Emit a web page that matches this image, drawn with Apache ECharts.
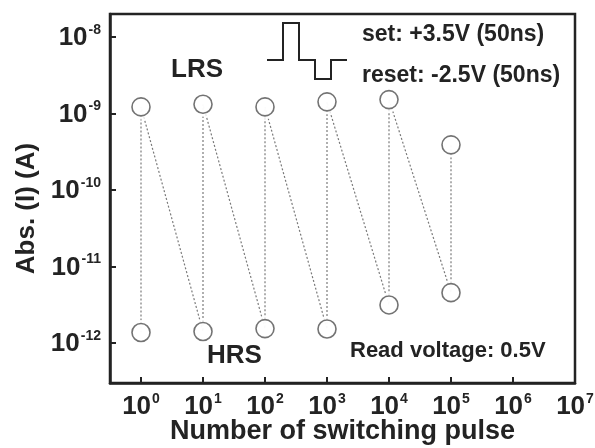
<!DOCTYPE html>
<html>
<head>
<meta charset="utf-8">
<script src="https://cdn.jsdelivr.net/npm/echarts@6/dist/echarts.min.js"></script>
<style>
  html, body { margin: 0; padding: 0; background: #fff; }
  #chart { width: 595px; height: 448px; }
</style>
</head>
<body>
<div id="chart"></div>
<script>
// number of switching pulses and the read currents (A)
var pulses = [1, 10, 100, 1000, 10000, 100000];
var lrsCurrent = [1.22e-9, 1.32e-9, 1.22e-9, 1.42e-9, 1.52e-9, 3.9e-10];
var hrsCurrent = [1.38e-12, 1.42e-12, 1.55e-12, 1.53e-12, 3.16e-12, 4.57e-12];

// tick exponents (decades)
var xTickExp = [0, 1, 2, 3, 4, 5, 6];
var xLabelExp = [0, 1, 2, 3, 4, 5, 6, 7];
var yTickExp = [-12, -11, -10, -9, -8];

var FONT = 'Liberation Sans';
var INK = '#232323';

function lg(v) {
    return Math.log10(v);
}

// points of both states, on log10 scale
var lrsPts = [];
var hrsPts = [];
for (var i = 0; i < pulses.length; i++) {
    lrsPts.push([lg(pulses[i]), lg(lrsCurrent[i])]);
    hrsPts.push([lg(pulses[i]), lg(hrsCurrent[i])]);
}

// dotted zigzag: HRS(n) -> LRS(n) -> HRS(n+1) ...
var zigzag = [];
for (var i = 0; i < pulses.length; i++) {
    zigzag.push(hrsPts[i]);
    zigzag.push(lrsPts[i]);
}

function powLabel(v) {
    return '{b|10}{s|' + v + '}';
}

var labelRich = {
    b: {fontFamily: FONT, fontWeight: 'bold', fontSize: 26, color: INK, lineHeight: 28, verticalAlign: 'bottom'},
    s: {fontFamily: FONT, fontWeight: 'bold', fontSize: 14, color: INK, lineHeight: 28, verticalAlign: 'top', padding: [0, 0, 0, 1]}
};

var chart = echarts.init(document.getElementById('chart'));

var option = {
    animation: false,
    backgroundColor: '#fff',
    grid: {
        left: 110,
        right: 20,
        top: 14,
        bottom: 65,
        outerBoundsMode: 'none',
        containLabel: false,
        show: true,
        borderColor: INK,
        borderWidth: 2.5,
        backgroundColor: 'transparent'
    },
    xAxis: {
        type: 'value',
        min: -0.5,
        max: 7,
        name: 'Number of switching pulse',
        nameLocation: 'middle',
        nameGap: 35,
        nameMoveOverlap: false,
        nameTextStyle: {fontFamily: FONT, fontWeight: 'bold', fontSize: 27, color: INK},
        splitLine: {show: false},
        axisLine: {onZero: false, lineStyle: {color: INK, width: 2.5}},
        axisTick: {inside: true, length: 6, lineStyle: {color: INK, width: 2}, customValues: xTickExp},
        axisLabel: {margin: 9, formatter: powLabel, rich: labelRich, customValues: xLabelExp}
    },
    yAxis: {
        type: 'value',
        min: -12.52,
        max: -7.7,
        name: 'Abs. (I) (A)',
        nameLocation: 'middle',
        nameGap: 70,
        nameMoveOverlap: false,
        nameRotate: 90,
        nameTextStyle: {fontFamily: FONT, fontWeight: 'bold', fontSize: 26, color: INK, padding: [0, 20, 0, 0]},
        splitLine: {show: false},
        axisLine: {onZero: false, lineStyle: {color: INK, width: 2.5}},
        axisTick: {inside: true, length: 6, lineStyle: {color: INK, width: 2}, customValues: yTickExp},
        axisLabel: {margin: 9, formatter: powLabel, rich: labelRich, customValues: yTickExp}
    },
    series: [
        {
            type: 'line',
            data: zigzag,
            showSymbol: false,
            symbol: 'none',
            lineStyle: {color: '#7a7a7a', width: 1.2, type: [2, 2]},
            z: 1
        },
        {
            // white halo so the dotted lines stop short of the circles
            type: 'scatter',
            data: lrsPts.concat(hrsPts),
            symbol: 'circle',
            symbolSize: 25,
            itemStyle: {color: '#fff', borderWidth: 0},
            z: 2
        },
        {
            type: 'scatter',
            name: 'LRS',
            data: lrsPts,
            symbol: 'circle',
            symbolSize: 18,
            itemStyle: {color: '#fff', borderColor: '#505050', borderWidth: 1.6},
            z: 3
        },
        {
            type: 'scatter',
            name: 'HRS',
            data: hrsPts,
            symbol: 'circle',
            symbolSize: 18,
            itemStyle: {color: '#fff', borderColor: '#505050', borderWidth: 1.6},
            z: 3
        }
    ],
    graphic: [
        {
            type: 'polyline',
            shape: {
                points: [[267, 60], [283, 60], [283, 23], [299, 23], [299, 60],
                    [315, 60], [315, 79], [331, 79], [331, 60], [347, 60]]
            },
            style: {stroke: INK, lineWidth: 2, fill: null}
        },
        {
            type: 'text', left: 171, top: 57,
            style: {text: 'LRS', font: 'bold 26px ' + FONT, fill: INK}
        },
        {
            type: 'text', left: 207, top: 343,
            style: {text: 'HRS', font: 'bold 26px ' + FONT, fill: INK}
        },
        {
            type: 'text', left: 362, top: 23,
            style: {text: 'set: +3.5V (50ns)', font: 'bold 23px ' + FONT, fill: INK}
        },
        {
            type: 'text', left: 362, top: 64,
            style: {text: 'reset: -2.5V (50ns)', font: 'bold 23px ' + FONT, fill: INK}
        },
        {
            type: 'text', left: 350, top: 340,
            style: {text: 'Read voltage: 0.5V', font: 'bold 22px ' + FONT, fill: INK}
        }
    ]
};

chart.setOption(option);
</script>
</body>
</html>
